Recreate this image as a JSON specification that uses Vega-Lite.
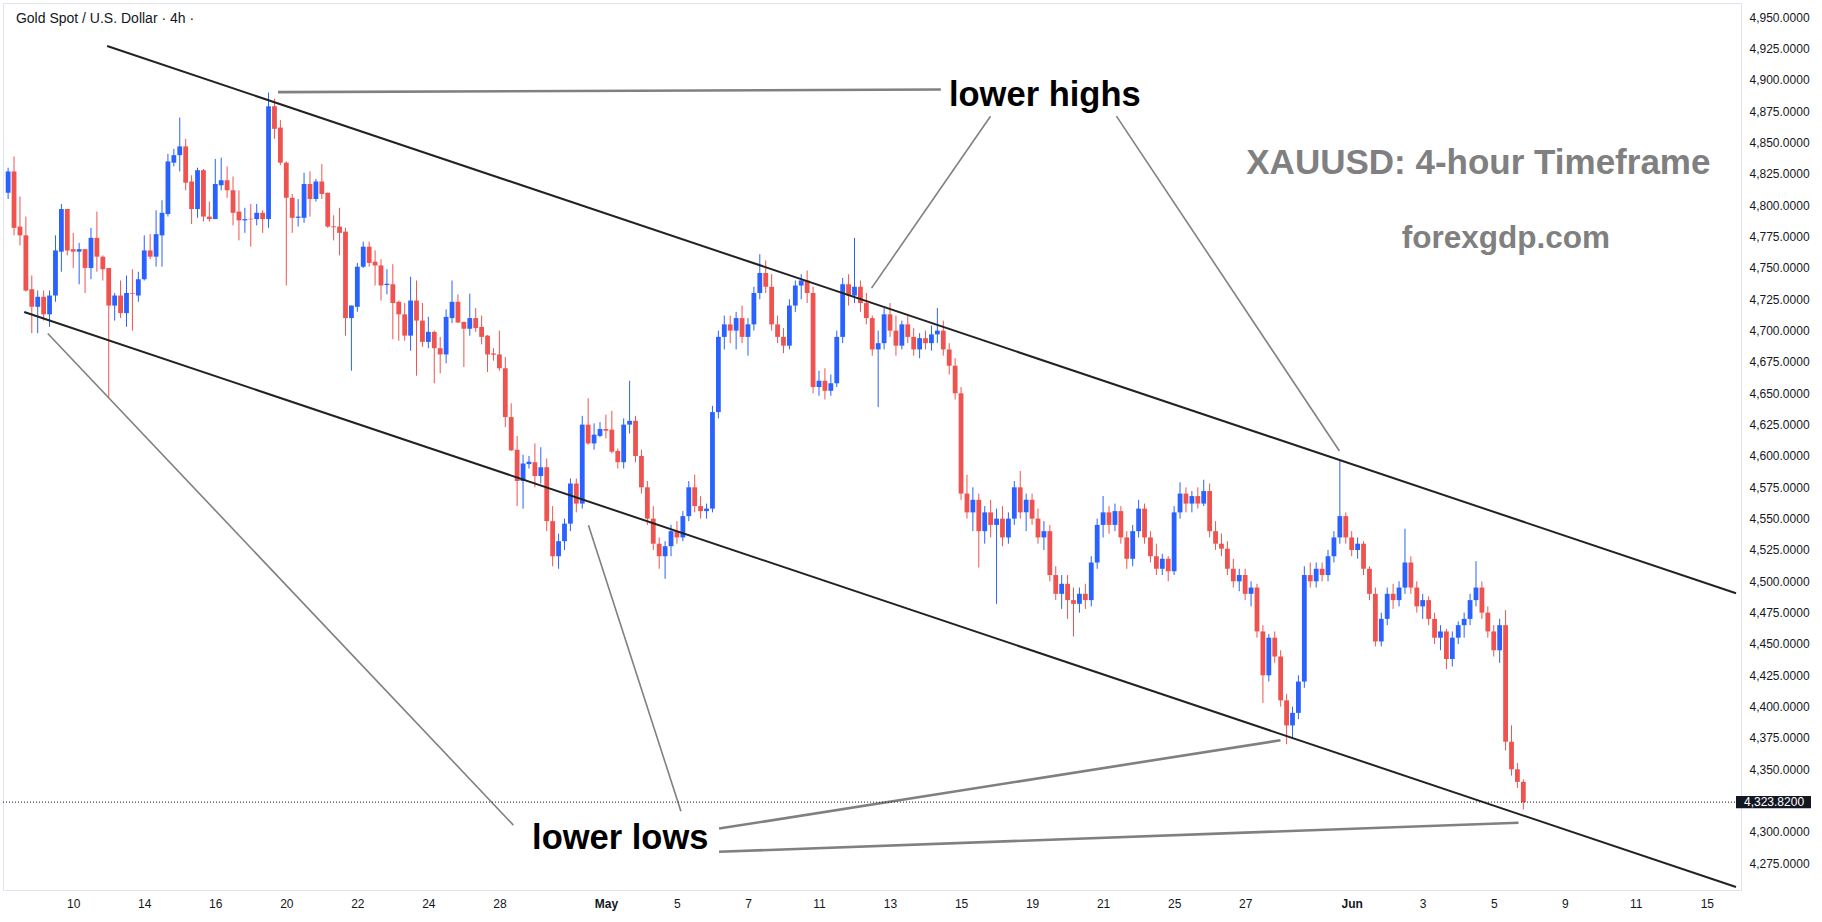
{
"$schema": "https://vega.github.io/schema/vega-lite/v6.json",
"autosize": {"type": "none"},
"width": 1738,
"height": 887,
"padding": {"left": 3, "top": 3, "right": 81, "bottom": 32},
"background": "#ffffff",
"config": {
"view": {"stroke": "#e0e3eb", "strokeWidth": 1},
"font": "Liberation Sans",
"axis": {"grid": false, "ticks": false, "domain": true, "domainColor": "#e0e3eb", "labelColor": "#131722", "labelFontSize": 12, "labelPadding": 8, "labelFlush": false, "labelOverlap": false, "labelFont": "Liberation Sans"}
},
"datasets": {
"candles": [
{"i":-11,"o":4810,"h":4830,"l":4805,"c":4827},
{"i":-10,"o":4827,"h":4839,"l":4776,"c":4782},
{"i":-9,"o":4783,"h":4807,"l":4768,"c":4776},
{"i":-8,"o":4776,"h":4791,"l":4731,"c":4732},
{"i":-7,"o":4733,"h":4744,"l":4698,"c":4719},
{"i":-6,"o":4719,"h":4732,"l":4698,"c":4727},
{"i":-5,"o":4727,"h":4732,"l":4708,"c":4713},
{"i":-4,"o":4713,"h":4732,"l":4703,"c":4728},
{"i":-3,"o":4728,"h":4776,"l":4723,"c":4764},
{"i":-2,"o":4763,"h":4801,"l":4747,"c":4797},
{"i":-1,"o":4797,"h":4797,"l":4760,"c":4764},
{"i":0,"o":4765,"h":4778,"l":4750,"c":4763},
{"i":1,"o":4763,"h":4770,"l":4737,"c":4765},
{"i":2,"o":4765,"h":4765,"l":4730,"c":4750},
{"i":3,"o":4750,"h":4782,"l":4741,"c":4774},
{"i":4,"o":4774,"h":4795,"l":4747,"c":4759},
{"i":5,"o":4759,"h":4760,"l":4740,"c":4749},
{"i":6,"o":4750,"h":4750,"l":4646,"c":4720},
{"i":7,"o":4720,"h":4730,"l":4708,"c":4728},
{"i":8,"o":4728,"h":4740,"l":4710,"c":4714},
{"i":9,"o":4714,"h":4744,"l":4703,"c":4730},
{"i":10,"o":4730,"h":4749,"l":4700,"c":4729.5},
{"i":11,"o":4728,"h":4747,"l":4723,"c":4741},
{"i":12,"o":4741,"h":4776,"l":4740,"c":4764},
{"i":13,"o":4764,"h":4777,"l":4757,"c":4759},
{"i":14,"o":4759,"h":4796,"l":4751,"c":4777},
{"i":15,"o":4776,"h":4804,"l":4751,"c":4794},
{"i":16,"o":4793,"h":4841,"l":4791,"c":4835},
{"i":17,"o":4834,"h":4845,"l":4831,"c":4840},
{"i":18,"o":4840,"h":4870,"l":4827,"c":4847},
{"i":19,"o":4847,"h":4853,"l":4812,"c":4818},
{"i":20,"o":4819,"h":4824,"l":4785,"c":4797},
{"i":21,"o":4797,"h":4830,"l":4790,"c":4828},
{"i":22,"o":4828,"h":4829,"l":4787,"c":4791},
{"i":23,"o":4791,"h":4803,"l":4787,"c":4789},
{"i":24,"o":4789,"h":4837,"l":4789,"c":4817},
{"i":25,"o":4816,"h":4838,"l":4812,"c":4820},
{"i":26,"o":4820,"h":4831,"l":4806,"c":4812},
{"i":27,"o":4812,"h":4823,"l":4784,"c":4794},
{"i":28,"o":4795,"h":4812,"l":4772,"c":4788},
{"i":29,"o":4788,"h":4798,"l":4778,"c":4789},
{"i":30,"o":4789.3,"h":4801,"l":4767,"c":4788.8},
{"i":31,"o":4789,"h":4801,"l":4784,"c":4794},
{"i":32,"o":4794,"h":4796,"l":4778,"c":4789},
{"i":33,"o":4789,"h":4890,"l":4782,"c":4879},
{"i":34,"o":4879,"h":4885,"l":4853,"c":4861},
{"i":35,"o":4862,"h":4868,"l":4832,"c":4834},
{"i":36,"o":4834,"h":4835,"l":4736,"c":4806},
{"i":37,"o":4806,"h":4809,"l":4778,"c":4790},
{"i":38,"o":4790,"h":4805,"l":4783,"c":4791},
{"i":39,"o":4790,"h":4826,"l":4786,"c":4817},
{"i":40,"o":4817,"h":4827,"l":4791,"c":4805},
{"i":41,"o":4805,"h":4821,"l":4803,"c":4819},
{"i":42,"o":4819,"h":4833,"l":4805,"c":4809},
{"i":43,"o":4810,"h":4810,"l":4782,"c":4783},
{"i":44,"o":4783.2,"h":4792,"l":4772,"c":4782.4},
{"i":45,"o":4783,"h":4798,"l":4760,"c":4778},
{"i":46,"o":4779,"h":4782,"l":4696,"c":4710},
{"i":47,"o":4710,"h":4720,"l":4668,"c":4720},
{"i":48,"o":4719,"h":4754,"l":4715,"c":4751},
{"i":49,"o":4751,"h":4771,"l":4750,"c":4767},
{"i":50,"o":4767,"h":4771,"l":4751,"c":4754},
{"i":51,"o":4755,"h":4764,"l":4736,"c":4752},
{"i":52,"o":4752,"h":4757,"l":4724,"c":4736},
{"i":53,"o":4736.4,"h":4749,"l":4729,"c":4737.4},
{"i":54,"o":4737,"h":4753,"l":4693,"c":4722},
{"i":55,"o":4723,"h":4724,"l":4692,"c":4713},
{"i":56,"o":4713,"h":4722,"l":4692,"c":4696},
{"i":57,"o":4696,"h":4743,"l":4684,"c":4724},
{"i":58,"o":4724,"h":4740,"l":4664,"c":4708},
{"i":59,"o":4708,"h":4722,"l":4687,"c":4691},
{"i":60,"o":4691,"h":4711,"l":4686,"c":4699},
{"i":61,"o":4699,"h":4700,"l":4658,"c":4686},
{"i":62,"o":4686,"h":4695,"l":4666,"c":4681},
{"i":63,"o":4681,"h":4717,"l":4674,"c":4711},
{"i":64,"o":4710,"h":4740,"l":4706,"c":4723},
{"i":65,"o":4723,"h":4729,"l":4706,"c":4706.5},
{"i":66,"o":4707,"h":4707,"l":4671,"c":4701.5},
{"i":67,"o":4701.5,"h":4729.5,"l":4696,"c":4710},
{"i":68,"o":4710,"h":4718,"l":4699,"c":4702},
{"i":69,"o":4703,"h":4712,"l":4689,"c":4695},
{"i":70,"o":4696,"h":4696.5,"l":4667,"c":4681},
{"i":71,"o":4681.8,"h":4686,"l":4676,"c":4680.8},
{"i":72,"o":4681,"h":4700,"l":4668,"c":4670},
{"i":73,"o":4670,"h":4679,"l":4623,"c":4631},
{"i":74,"o":4631,"h":4642,"l":4604,"c":4604.5},
{"i":75,"o":4605,"h":4616,"l":4560,"c":4580},
{"i":76,"o":4580,"h":4601,"l":4558,"c":4594},
{"i":77,"o":4593.5,"h":4600,"l":4590,"c":4595.4},
{"i":78,"o":4595,"h":4610,"l":4575,"c":4584},
{"i":79,"o":4584,"h":4607,"l":4578,"c":4591},
{"i":80,"o":4591,"h":4598,"l":4540,"c":4548},
{"i":81,"o":4548,"h":4560,"l":4512,"c":4520},
{"i":82,"o":4520,"h":4538,"l":4510,"c":4532},
{"i":83,"o":4532,"h":4550,"l":4525,"c":4546},
{"i":84,"o":4546,"h":4582,"l":4540,"c":4578},
{"i":85,"o":4578,"h":4582,"l":4555,"c":4562},
{"i":86,"o":4562,"h":4632,"l":4558,"c":4625},
{"i":87,"o":4625,"h":4646,"l":4609,"c":4610},
{"i":88,"o":4610,"h":4626,"l":4605,"c":4617},
{"i":89,"o":4616,"h":4627,"l":4615,"c":4621.5},
{"i":90,"o":4621.5,"h":4633,"l":4614,"c":4620.2},
{"i":91,"o":4621,"h":4636,"l":4602,"c":4603.4},
{"i":92,"o":4604,"h":4606,"l":4590,"c":4595},
{"i":93,"o":4595,"h":4630,"l":4590,"c":4625},
{"i":94,"o":4625,"h":4660,"l":4618,"c":4628},
{"i":95,"o":4628,"h":4632,"l":4595,"c":4600},
{"i":96,"o":4600,"h":4605,"l":4570,"c":4575},
{"i":97,"o":4575,"h":4580,"l":4545,"c":4550},
{"i":98,"o":4550,"h":4560,"l":4525,"c":4530},
{"i":99,"o":4530,"h":4535,"l":4510,"c":4520},
{"i":100,"o":4520,"h":4532,"l":4502,"c":4528},
{"i":101,"o":4528,"h":4545,"l":4520,"c":4540},
{"i":102,"o":4540,"h":4548,"l":4530,"c":4535},
{"i":103,"o":4535,"h":4556,"l":4532,"c":4552},
{"i":104,"o":4552,"h":4580,"l":4548,"c":4575},
{"i":105,"o":4575,"h":4585,"l":4555,"c":4560},
{"i":106,"o":4560,"h":4568,"l":4550,"c":4556},
{"i":107,"o":4556,"h":4562,"l":4550,"c":4558},
{"i":108,"o":4558,"h":4640,"l":4555,"c":4635},
{"i":109,"o":4635,"h":4700,"l":4630,"c":4695},
{"i":110,"o":4695,"h":4712,"l":4685,"c":4705},
{"i":111,"o":4705,"h":4712,"l":4690,"c":4700},
{"i":112,"o":4700,"h":4715,"l":4685,"c":4710},
{"i":113,"o":4710,"h":4720,"l":4690,"c":4695},
{"i":114,"o":4695,"h":4710,"l":4680,"c":4705},
{"i":115,"o":4705,"h":4735,"l":4700,"c":4730},
{"i":116,"o":4730,"h":4761,"l":4725,"c":4746},
{"i":117,"o":4746,"h":4756,"l":4730,"c":4735},
{"i":118,"o":4735,"h":4745,"l":4700,"c":4705},
{"i":119,"o":4705,"h":4712,"l":4690,"c":4695},
{"i":120,"o":4695,"h":4702,"l":4682,"c":4688},
{"i":121,"o":4688,"h":4725,"l":4685,"c":4720},
{"i":122,"o":4720,"h":4740,"l":4715,"c":4736},
{"i":123,"o":4736,"h":4745,"l":4725,"c":4740},
{"i":124,"o":4740,"h":4748,"l":4722,"c":4730},
{"i":125,"o":4730,"h":4735,"l":4650,"c":4655},
{"i":126,"o":4655,"h":4668,"l":4648,"c":4660},
{"i":127,"o":4660,"h":4670,"l":4645,"c":4652},
{"i":128,"o":4652,"h":4665,"l":4648,"c":4658},
{"i":129,"o":4658,"h":4700,"l":4655,"c":4695},
{"i":130,"o":4695,"h":4742,"l":4690,"c":4737},
{"i":131,"o":4737,"h":4745,"l":4720,"c":4728},
{"i":132,"o":4728,"h":4774,"l":4722,"c":4735},
{"i":133,"o":4735,"h":4740,"l":4715,"c":4722},
{"i":134,"o":4722,"h":4730,"l":4705,"c":4710},
{"i":135,"o":4710,"h":4712,"l":4680,"c":4685},
{"i":136,"o":4685,"h":4700,"l":4639,"c":4690},
{"i":137,"o":4690,"h":4718,"l":4685,"c":4713},
{"i":138,"o":4713,"h":4722,"l":4695,"c":4700},
{"i":139,"o":4700,"h":4712,"l":4680,"c":4688},
{"i":140,"o":4688,"h":4708,"l":4685,"c":4705},
{"i":141,"o":4705,"h":4712,"l":4690,"c":4695},
{"i":142,"o":4695,"h":4702,"l":4680,"c":4685},
{"i":143,"o":4685,"h":4698,"l":4678,"c":4694},
{"i":144,"o":4694,"h":4700,"l":4685,"c":4690},
{"i":145,"o":4690,"h":4704,"l":4684,"c":4697},
{"i":146,"o":4697,"h":4718,"l":4690,"c":4700},
{"i":147,"o":4700,"h":4708,"l":4680,"c":4685},
{"i":148,"o":4685,"h":4690,"l":4665,"c":4672},
{"i":149,"o":4672,"h":4678,"l":4645,"c":4650},
{"i":150,"o":4650,"h":4655,"l":4565,"c":4570},
{"i":151,"o":4570,"h":4585,"l":4550,"c":4555},
{"i":152,"o":4555,"h":4575,"l":4540,"c":4565},
{"i":153,"o":4565,"h":4570,"l":4511,"c":4540},
{"i":154,"o":4540,"h":4560,"l":4530,"c":4555},
{"i":155,"o":4555,"h":4565,"l":4535,"c":4545},
{"i":156,"o":4545,"h":4558,"l":4482,"c":4550},
{"i":157,"o":4550,"h":4560,"l":4528,"c":4535},
{"i":158,"o":4535,"h":4555,"l":4530,"c":4550},
{"i":159,"o":4550,"h":4580,"l":4545,"c":4575},
{"i":160,"o":4575,"h":4588,"l":4550,"c":4555},
{"i":161,"o":4555,"h":4570,"l":4540,"c":4565},
{"i":162,"o":4565,"h":4570,"l":4545,"c":4550},
{"i":163,"o":4550,"h":4558,"l":4530,"c":4535},
{"i":164,"o":4535,"h":4548,"l":4525,"c":4540},
{"i":165,"o":4540,"h":4545,"l":4500,"c":4505},
{"i":166,"o":4505,"h":4512,"l":4485,"c":4490},
{"i":167,"o":4490,"h":4505,"l":4478,"c":4498},
{"i":168,"o":4498,"h":4505,"l":4470,"c":4485},
{"i":169,"o":4485,"h":4495,"l":4456,"c":4482},
{"i":170,"o":4482,"h":4495,"l":4475,"c":4490},
{"i":171,"o":4490,"h":4498,"l":4478,"c":4485},
{"i":172,"o":4485,"h":4520,"l":4480,"c":4515},
{"i":173,"o":4515,"h":4550,"l":4510,"c":4545},
{"i":174,"o":4545,"h":4568,"l":4535,"c":4555},
{"i":175,"o":4555,"h":4560,"l":4538,"c":4545},
{"i":176,"o":4545,"h":4562,"l":4540,"c":4556},
{"i":177,"o":4556,"h":4560,"l":4530,"c":4535},
{"i":178,"o":4535,"h":4540,"l":4510,"c":4518},
{"i":179,"o":4518,"h":4545,"l":4512,"c":4540},
{"i":180,"o":4540,"h":4565,"l":4535,"c":4558},
{"i":181,"o":4558,"h":4562,"l":4530,"c":4535},
{"i":182,"o":4535,"h":4540,"l":4515,"c":4520},
{"i":183,"o":4520,"h":4530,"l":4505,"c":4510},
{"i":184,"o":4510,"h":4522,"l":4505,"c":4518},
{"i":185,"o":4518,"h":4520,"l":4500,"c":4508},
{"i":186,"o":4508,"h":4560,"l":4505,"c":4555},
{"i":187,"o":4555,"h":4579,"l":4550,"c":4570},
{"i":188,"o":4570,"h":4575,"l":4555,"c":4562},
{"i":189,"o":4562,"h":4572,"l":4555,"c":4568},
{"i":190,"o":4568,"h":4575,"l":4558,"c":4562},
{"i":191,"o":4562,"h":4581,"l":4560,"c":4572},
{"i":192,"o":4572,"h":4578,"l":4535,"c":4540},
{"i":193,"o":4540,"h":4548,"l":4525,"c":4530},
{"i":194,"o":4530,"h":4538,"l":4520,"c":4526},
{"i":195,"o":4526,"h":4532,"l":4505,"c":4510},
{"i":196,"o":4510,"h":4518,"l":4495,"c":4500},
{"i":197,"o":4500,"h":4510,"l":4492,"c":4505},
{"i":198,"o":4505,"h":4510,"l":4485,"c":4490},
{"i":199,"o":4490,"h":4500,"l":4480,"c":4495},
{"i":200,"o":4495,"h":4498,"l":4455,"c":4460},
{"i":201,"o":4460,"h":4465,"l":4403,"c":4425},
{"i":202,"o":4425,"h":4458,"l":4420,"c":4455},
{"i":203,"o":4455,"h":4460,"l":4435,"c":4440},
{"i":204,"o":4440,"h":4445,"l":4400,"c":4405},
{"i":205,"o":4405,"h":4410,"l":4370,"c":4385},
{"i":206,"o":4385,"h":4400,"l":4375,"c":4395},
{"i":207,"o":4395,"h":4425,"l":4390,"c":4420},
{"i":208,"o":4420,"h":4512,"l":4415,"c":4505},
{"i":209,"o":4505,"h":4515,"l":4495,"c":4500},
{"i":210,"o":4500,"h":4515,"l":4495,"c":4510},
{"i":211,"o":4510,"h":4515,"l":4500,"c":4505},
{"i":212,"o":4505,"h":4525,"l":4500,"c":4520},
{"i":213,"o":4520,"h":4540,"l":4515,"c":4535},
{"i":214,"o":4535,"h":4596,"l":4530,"c":4552},
{"i":215,"o":4552,"h":4555,"l":4530,"c":4535},
{"i":216,"o":4535,"h":4540,"l":4520,"c":4525},
{"i":217,"o":4525,"h":4535,"l":4518,"c":4530},
{"i":218,"o":4530,"h":4532,"l":4505,"c":4510},
{"i":219,"o":4510,"h":4512,"l":4485,"c":4490},
{"i":220,"o":4490,"h":4495,"l":4448,"c":4452},
{"i":221,"o":4452,"h":4475,"l":4448,"c":4470},
{"i":222,"o":4470,"h":4495,"l":4465,"c":4490},
{"i":223,"o":4490,"h":4498,"l":4478,"c":4485},
{"i":224,"o":4485,"h":4500,"l":4480,"c":4495},
{"i":225,"o":4495,"h":4542,"l":4490,"c":4515},
{"i":226,"o":4515,"h":4520,"l":4490,"c":4495},
{"i":227,"o":4495,"h":4500,"l":4475,"c":4480},
{"i":228,"o":4480,"h":4490,"l":4470,"c":4485},
{"i":229,"o":4485,"h":4488,"l":4465,"c":4470},
{"i":230,"o":4470,"h":4475,"l":4450,"c":4455},
{"i":231,"o":4455,"h":4465,"l":4445,"c":4460},
{"i":232,"o":4460,"h":4462,"l":4430,"c":4438},
{"i":233,"o":4438,"h":4460,"l":4432,"c":4455},
{"i":234,"o":4455,"h":4468,"l":4450,"c":4465},
{"i":235,"o":4465,"h":4475,"l":4455,"c":4470},
{"i":236,"o":4470,"h":4490,"l":4465,"c":4485},
{"i":237,"o":4485,"h":4516,"l":4480,"c":4495},
{"i":238,"o":4495,"h":4500,"l":4470,"c":4475},
{"i":239,"o":4475,"h":4480,"l":4455,"c":4460},
{"i":240,"o":4460,"h":4465,"l":4440,"c":4445},
{"i":241,"o":4445,"h":4470,"l":4435,"c":4465},
{"i":242,"o":4465,"h":4477,"l":4365,"c":4372},
{"i":243,"o":4372,"h":4385,"l":4345,"c":4350},
{"i":244,"o":4350,"h":4355,"l":4335,"c":4340},
{"i":245,"o":4340,"h":4342,"l":4318,"c":4323.82}
],
"channel": [
{"xa":5.73,"ya":4927.1,"xb":280.93,"yb":4490.5},
{"xa":-8.28,"ya":4714.9,"xb":280.93,"yb":4256.1}
],
"pointers": [
{"id":"a","xa":34.6,"ya":4890.3,"xb":146.58,"yb":4892.4},
{"id":"b","xa":154.98,"ya":4871.1,"xb":134.88,"yb":4733.9},
{"id":"c","xa":176.25,"ya":4871.1,"xb":213.93,"yb":4604.0},
{"id":"d","xa":-4.3,"ya":4697.7,"xb":74.36,"yb":4305.5},
{"id":"e","xa":87.05,"ya":4544.7,"xb":102.67,"yb":4316.6},
{"id":"f","xa":109.11,"ya":4302.7,"xb":203.97,"yb":4373.2},
{"id":"g","xa":109.11,"ya":4284.2,"xb":244.18,"yb":4307.4}
],
"calls": [
{"i":164.15,"p":4886.9,"t":"lower highs"},
{"i":92.42,"p":4294.4,"t":"lower lows"}
],
"marks": [
{"i":237.4,"p":4834.0,"t":"XAUUSD: 4-hour Timeframe","k":"big"},
{"i":242.05,"p":4772.8,"t":"forexgdp.com","k":"small"}
],
"head": [
{"i":-9.68,"p":4948.6,"t":"Gold Spot / U.S. Dollar · 4h ·"}
],
"last": [
{"p":4323.82,"lo":4319.0,"hi":4328.6,"xa":280.93,"xb":293.6,"t":"4,323.8200"}
]
},
"layer": [
{
"data": {"name": "candles"},
"mark": {"type": "rule", "strokeWidth": 1, "clip": true},
"encoding": {
"x": {"field": "i", "type": "quantitative", "title": null,
"scale": {"domain": [-11.02, 280.93], "nice": false, "zero": false},
"axis": {"orient": "bottom", "labelOverlap": false, "tickCount": 100,
"values": [0,12,24,36,48,60,72,90,102,114,126,138,150,162,174,186,198,216,228,240,252,264,276],
"labelExpr": "['10','14','16','20','22','24','28','May','5','7','11','13','15','19','21','25','27','Jun','3','5','9','11','15'][indexof([0,12,24,36,48,60,72,90,102,114,126,138,150,162,174,186,198,216,228,240,252,264,276], datum.value)]",
"labelFontWeight": {"condition": {"test": "datum.value == 90 || datum.value == 216", "value": "bold"}, "value": "normal"}}},
"y": {"field": "l", "type": "quantitative", "title": null,
"scale": {"domain": [4253.7, 4961.4], "nice": false, "zero": false},
"axis": {"orient": "right", "labelOverlap": false, "tickCount": 100,
"values": [4275,4300,4350,4375,4400,4425,4450,4475,4500,4525,4550,4575,4600,4625,4650,4675,4700,4725,4750,4775,4800,4825,4850,4875,4900,4925,4950],
"format": ",.4f"}},
"y2": {"field": "h"},
"color": {"condition": {"test": "datum.c >= datum.o", "value": "#2962ff"}, "value": "#ef5350"}
}
},
{
"data": {"name": "candles"},
"mark": {"type": "bar", "size": 4.8, "clip": true},
"encoding": {
"x": {"field": "i", "type": "quantitative", "title": null, "scale": {"domain": [-11.02, 280.93], "nice": false, "zero": false}, "axis": {"orient": "bottom", "labelOverlap": false}},
"y": {"field": "o", "type": "quantitative", "title": null, "scale": {"domain": [4253.7, 4961.4], "nice": false, "zero": false}, "axis": {"orient": "right", "labelOverlap": false}},
"y2": {"field": "c"},
"color": {"condition": {"test": "datum.c >= datum.o", "value": "#2962ff"}, "value": "#ef5350"}
}
},
{
"data": {"name": "channel"},
"mark": {"type": "rule", "strokeWidth": 2, "color": "#222222", "clip": true},
"encoding": {
"x": {"field": "xa", "type": "quantitative", "title": null, "scale": {"domain": [-11.02, 280.93], "nice": false, "zero": false}, "axis": {"orient": "bottom", "labelOverlap": false}},
"y": {"field": "ya", "type": "quantitative", "title": null, "scale": {"domain": [4253.7, 4961.4], "nice": false, "zero": false}, "axis": {"orient": "right", "labelOverlap": false}},
"x2": {"field": "xb"},
"y2": {"field": "yb"}
}
},
{
"data": {"name": "pointers"},
"transform": [{"filter": "indexof(['a','f','g'], datum.id) < 0"}],
"mark": {"type": "rule", "strokeWidth": 1.6, "color": "#808080", "clip": true},
"encoding": {
"x": {"field": "xa", "type": "quantitative", "title": null, "scale": {"domain": [-11.02, 280.93], "nice": false, "zero": false}, "axis": {"orient": "bottom", "labelOverlap": false}},
"y": {"field": "ya", "type": "quantitative", "title": null, "scale": {"domain": [4253.7, 4961.4], "nice": false, "zero": false}, "axis": {"orient": "right", "labelOverlap": false}},
"x2": {"field": "xb"},
"y2": {"field": "yb"}
}
},
{
"data": {"name": "pointers"},
"transform": [{"filter": "indexof(['a','f','g'], datum.id) >= 0"}],
"mark": {"type": "rule", "strokeWidth": 2.6, "color": "#808080", "clip": true},
"encoding": {
"x": {"field": "xa", "type": "quantitative", "title": null, "scale": {"domain": [-11.02, 280.93], "nice": false, "zero": false}, "axis": {"orient": "bottom", "labelOverlap": false}},
"y": {"field": "ya", "type": "quantitative", "title": null, "scale": {"domain": [4253.7, 4961.4], "nice": false, "zero": false}, "axis": {"orient": "right", "labelOverlap": false}},
"x2": {"field": "xb"},
"y2": {"field": "yb"}
}
},
{
"data": {"name": "last"},
"mark": {"type": "rule", "strokeWidth": 1, "color": "#131722", "strokeDash": [1, 2]},
"encoding": {
"y": {"field": "p", "type": "quantitative", "title": null, "scale": {"domain": [4253.7, 4961.4], "nice": false, "zero": false}, "axis": {"orient": "right", "labelOverlap": false}}
}
},
{
"data": {"name": "last"},
"mark": {"type": "rect", "color": "#131722", "clip": false},
"encoding": {
"x": {"field": "xa", "type": "quantitative", "title": null, "scale": {"domain": [-11.02, 280.93], "nice": false, "zero": false}, "axis": {"orient": "bottom", "labelOverlap": false}},
"x2": {"field": "xb"},
"y": {"field": "lo", "type": "quantitative", "title": null, "scale": {"domain": [4253.7, 4961.4], "nice": false, "zero": false}, "axis": {"orient": "right", "labelOverlap": false}},
"y2": {"field": "hi"}
}
},
{
"data": {"name": "last"},
"mark": {"type": "text", "color": "#ffffff", "fontSize": 12, "align": "left", "baseline": "middle", "dx": 8, "clip": false},
"encoding": {
"x": {"field": "xa", "type": "quantitative", "title": null, "scale": {"domain": [-11.02, 280.93], "nice": false, "zero": false}, "axis": {"orient": "bottom", "labelOverlap": false}},
"y": {"field": "p", "type": "quantitative", "title": null, "scale": {"domain": [4253.7, 4961.4], "nice": false, "zero": false}, "axis": {"orient": "right", "labelOverlap": false}},
"text": {"field": "t"}
}
},
{
"data": {"name": "calls"},
"mark": {"type": "text", "color": "#000000", "fontSize": 34.5, "fontWeight": "bold", "align": "center", "baseline": "middle", "font": "Liberation Sans"},
"encoding": {
"x": {"field": "i", "type": "quantitative", "title": null, "scale": {"domain": [-11.02, 280.93], "nice": false, "zero": false}, "axis": {"orient": "bottom", "labelOverlap": false}},
"y": {"field": "p", "type": "quantitative", "title": null, "scale": {"domain": [4253.7, 4961.4], "nice": false, "zero": false}, "axis": {"orient": "right", "labelOverlap": false}},
"text": {"field": "t"}
}
},
{
"data": {"name": "marks"},
"transform": [{"filter": "datum.k == 'big'"}],
"mark": {"type": "text", "color": "#808080", "fontSize": 35, "fontWeight": "bold", "align": "center", "baseline": "middle", "font": "Liberation Sans"},
"encoding": {
"x": {"field": "i", "type": "quantitative", "title": null, "scale": {"domain": [-11.02, 280.93], "nice": false, "zero": false}, "axis": {"orient": "bottom", "labelOverlap": false}},
"y": {"field": "p", "type": "quantitative", "title": null, "scale": {"domain": [4253.7, 4961.4], "nice": false, "zero": false}, "axis": {"orient": "right", "labelOverlap": false}},
"text": {"field": "t"}
}
},
{
"data": {"name": "marks"},
"transform": [{"filter": "datum.k == 'small'"}],
"mark": {"type": "text", "color": "#808080", "fontSize": 31.5, "fontWeight": "bold", "align": "center", "baseline": "middle", "font": "Liberation Sans"},
"encoding": {
"x": {"field": "i", "type": "quantitative", "title": null, "scale": {"domain": [-11.02, 280.93], "nice": false, "zero": false}, "axis": {"orient": "bottom", "labelOverlap": false}},
"y": {"field": "p", "type": "quantitative", "title": null, "scale": {"domain": [4253.7, 4961.4], "nice": false, "zero": false}, "axis": {"orient": "right", "labelOverlap": false}},
"text": {"field": "t"}
}
},
{
"data": {"name": "head"},
"mark": {"type": "text", "color": "#131722", "fontSize": 14, "align": "left", "baseline": "middle"},
"encoding": {
"x": {"field": "i", "type": "quantitative", "title": null, "scale": {"domain": [-11.02, 280.93], "nice": false, "zero": false}, "axis": {"orient": "bottom", "labelOverlap": false}},
"y": {"field": "p", "type": "quantitative", "title": null, "scale": {"domain": [4253.7, 4961.4], "nice": false, "zero": false}, "axis": {"orient": "right", "labelOverlap": false}},
"text": {"field": "t"}
}
}
]
}
